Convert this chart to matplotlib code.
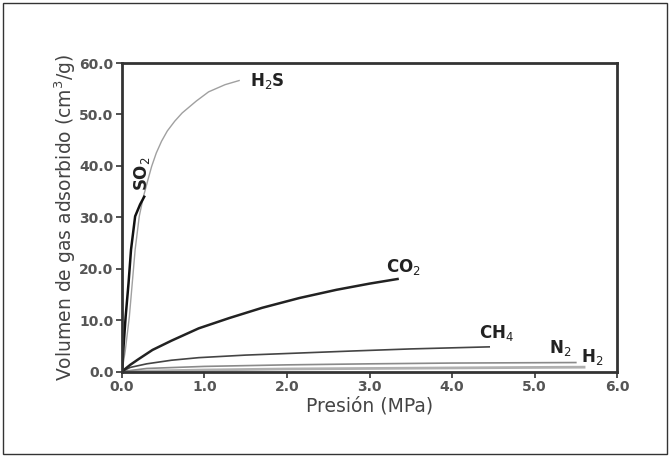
import matplotlib
matplotlib.use("Agg")
import matplotlib.pyplot as plt
from matplotlib.patches import Rectangle

plt.rcParams['font.family'] = ['DejaVu Sans']

# Data (Presión MPa vs volumen cm3/g)
h2s_x = [0, 0.04, 0.09, 0.125, 0.16, 0.21, 0.26, 0.31, 0.36, 0.416, 0.48, 0.55, 0.64, 0.73, 0.9, 1.05, 1.25, 1.42]
h2s_y = [0, 4, 10.7, 17.2, 23.7, 30.2, 34.0, 37.0, 39.9, 42.5, 44.8, 46.8, 48.7, 50.3, 52.6, 54.4, 55.8, 56.6]

so2_x = [0, 0.02, 0.045, 0.08, 0.11, 0.16, 0.22, 0.27]
so2_y = [0, 5, 10.7, 17.2, 23.7, 30.2, 32.5, 34]

co2_x = [0, 0.1, 0.2, 0.37, 0.6, 0.93, 1.3, 1.7, 2.15, 2.6, 3.0, 3.34]
co2_y = [0, 1.3, 2.4, 4.2, 6.0, 8.4, 10.4, 12.4, 14.3, 15.9, 17.1, 18.0]

ch4_x = [0, 0.1, 0.3, 0.6, 0.93, 1.5, 2.15, 2.8, 3.5, 4.45]
ch4_y = [0, 0.8, 1.5, 2.2, 2.7, 3.2, 3.6, 4.0, 4.4, 4.8]

n2_x = [0, 0.3, 1.0, 2.0, 3.0, 4.0, 5.5]
n2_y = [0, 0.6, 1.0, 1.3, 1.5, 1.65, 1.75]

h2_x = [0, 1.0, 2.0, 3.0, 4.0, 5.0, 5.6]
h2_y = [0, 0.3, 0.5, 0.6, 0.7, 0.8, 0.85]

x_ticks = [0, 1, 2, 3, 4, 5, 6]
y_ticks = [0, 10, 20, 30, 40, 50, 60]

fig = plt.figure(figsize=(6.7, 4.57), dpi=100)
fig.patches.append(Rectangle((0.005, 0.006), 0.99, 0.988, transform=fig.transFigure,
                             fill=False, edgecolor='#333333', linewidth=1.0))
ax = fig.add_axes([0.182, 0.187, 0.739, 0.675])

ax.plot(h2_x, h2_y, color='#b0b0b0', lw=2.0)
ax.plot(n2_x, n2_y, color='#8a8a8a', lw=1.2)
ax.plot(ch4_x, ch4_y, color='#444444', lw=1.2)
ax.plot(co2_x, co2_y, color='#222222', lw=1.8)
ax.plot(h2s_x, h2s_y, color='#a0a0a0', lw=1.0)
ax.plot(so2_x, so2_y, color='#111111', lw=1.8)

ax.set_xlim(0, 6)
ax.set_ylim(0, 60)
ax.set_xticks(x_ticks)
ax.set_yticks(y_ticks)
ax.set_xticklabels([f"{v:.1f}" for v in x_ticks])
ax.set_yticklabels([f"{v:.1f}" for v in y_ticks])
ax.tick_params(direction='out', length=4, width=1.2, colors='#333333', labelsize=10, pad=2)
for lbl in ax.get_xticklabels() + ax.get_yticklabels():
    lbl.set_fontweight('bold')
    lbl.set_color('#555555')
for sp in ax.spines.values():
    sp.set_linewidth(2.0)
    sp.set_color('#333333')

ax.set_xlabel("Presión (MPa)", fontsize=13.5, color='#444444', labelpad=2)
ax.set_ylabel("Volumen de gas adsorbido (cm$^3$/g)", fontsize=13.5, color='#444444', labelpad=1)

lab = dict(fontsize=12, fontweight='bold', color='#222222')
ax.text(1.55, 56.6, "H$_2$S", ha='left', va='center', **lab)
ax.text(0.24, 38.5, "SO$_2$", ha='center', va='center', rotation=90, **lab)
ax.text(3.2, 20.3, "CO$_2$", ha='left', va='center', **lab)
ax.text(4.33, 7.5, "CH$_4$", ha='left', va='center', **lab)
ax.text(5.18, 4.6, "N$_2$", ha='left', va='center', **lab)
ax.text(5.56, 2.9, "H$_2$", ha='left', va='center', **lab)

fig.savefig("out.png", dpi=100)
